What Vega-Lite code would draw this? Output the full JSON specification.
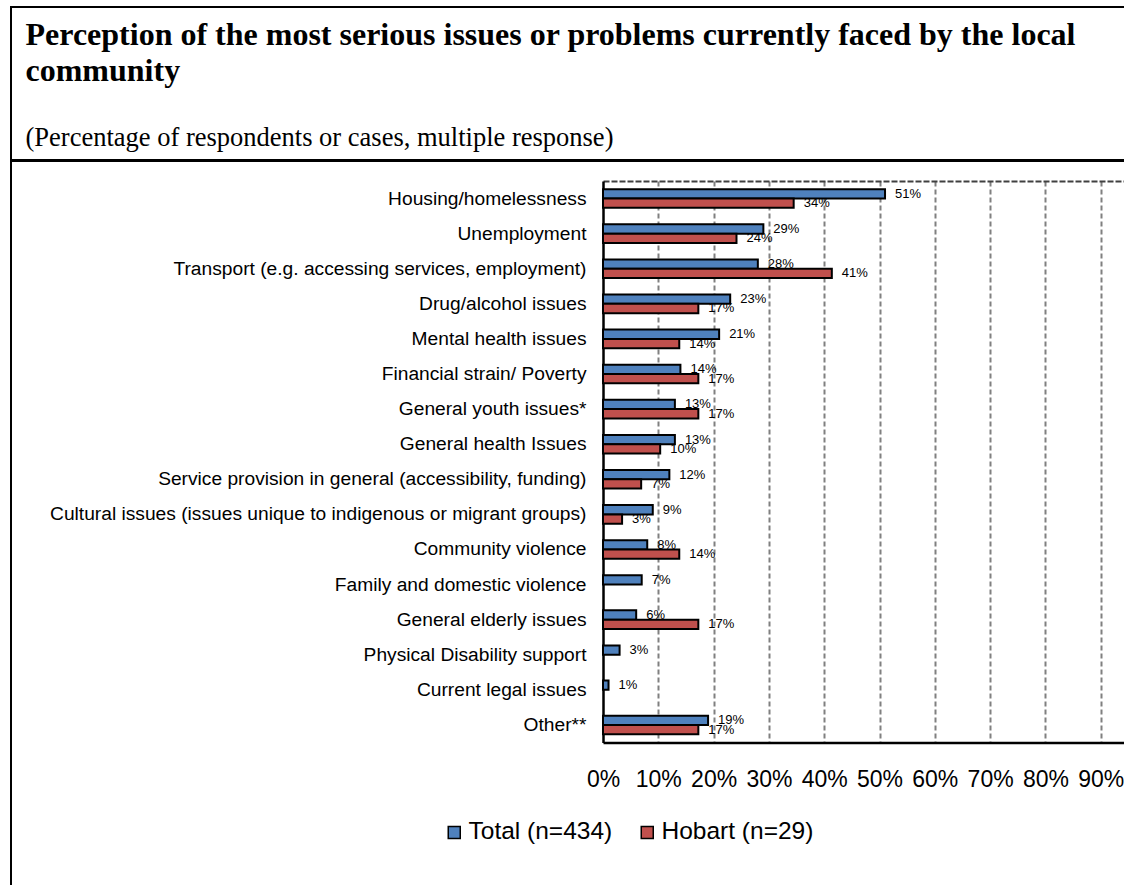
{
  "$schema": "https://vega.github.io/schema/vega-lite/v6.json",
  "padding": {"left": 10, "top": 6, "right": 0, "bottom": 0},
  "background": "white",
  "spacing": -2,
  "config": {
    "font": "Liberation Sans",
    "view": {"stroke": "black", "strokeWidth": 2}
  },
  "vconcat": [
    {
      "width": 1160,
      "height": 153,
      "view": {"stroke": "black", "strokeWidth": 2, "fill": "white"},
      "data": {"values": [{"t": ""}]},
      "mark": {"type": "text"},
      "encoding": {"text": {"field": "t"}},
      "title": {
        "text": ["Perception of the most serious issues or problems currently faced by the local", "community"],
        "subtitle": "(Percentage of respondents or cases, multiple response)",
        "orient": "top",
        "anchor": "start",
        "frame": "group",
        "font": "Liberation Serif",
        "fontSize": 32,
        "fontWeight": "bold",
        "color": "black",
        "lineHeight": 36.7,
        "subtitleFont": "Liberation Serif",
        "subtitleFontSize": 26.5,
        "subtitleColor": "black",
        "subtitlePadding": 36,
        "offset": -145,
        "dx": 14.5
      }
    },
    {
      "width": 1160,
      "height": 740,
      "view": {"stroke": "black", "strokeWidth": 2},
      "data": {
        "values": [
          {"issue": "Housing/homelessness", "series": "Total (n=434)", "value": 0.51},
          {"issue": "Unemployment", "series": "Total (n=434)", "value": 0.29},
          {"issue": "Transport (e.g. accessing services, employment)", "series": "Total (n=434)", "value": 0.28},
          {"issue": "Drug/alcohol issues", "series": "Total (n=434)", "value": 0.23},
          {"issue": "Mental health issues", "series": "Total (n=434)", "value": 0.21},
          {"issue": "Financial strain/ Poverty", "series": "Total (n=434)", "value": 0.14},
          {"issue": "General youth issues*", "series": "Total (n=434)", "value": 0.13},
          {"issue": "General health Issues", "series": "Total (n=434)", "value": 0.13},
          {"issue": "Service provision in general (accessibility, funding)", "series": "Total (n=434)", "value": 0.12},
          {"issue": "Cultural issues (issues unique to indigenous or migrant groups)", "series": "Total (n=434)", "value": 0.09},
          {"issue": "Community violence", "series": "Total (n=434)", "value": 0.08},
          {"issue": "Family and domestic violence", "series": "Total (n=434)", "value": 0.07},
          {"issue": "General elderly issues", "series": "Total (n=434)", "value": 0.06},
          {"issue": "Physical Disability support", "series": "Total (n=434)", "value": 0.03},
          {"issue": "Current legal issues", "series": "Total (n=434)", "value": 0.01},
          {"issue": "Other**", "series": "Total (n=434)", "value": 0.19},
          {"issue": "Housing/homelessness", "series": "Hobart (n=29)", "value": 0.3448},
          {"issue": "Unemployment", "series": "Hobart (n=29)", "value": 0.2414},
          {"issue": "Transport (e.g. accessing services, employment)", "series": "Hobart (n=29)", "value": 0.4138},
          {"issue": "Drug/alcohol issues", "series": "Hobart (n=29)", "value": 0.1724},
          {"issue": "Mental health issues", "series": "Hobart (n=29)", "value": 0.1379},
          {"issue": "Financial strain/ Poverty", "series": "Hobart (n=29)", "value": 0.1724},
          {"issue": "General youth issues*", "series": "Hobart (n=29)", "value": 0.1724},
          {"issue": "General health Issues", "series": "Hobart (n=29)", "value": 0.1034},
          {"issue": "Service provision in general (accessibility, funding)", "series": "Hobart (n=29)", "value": 0.069},
          {"issue": "Cultural issues (issues unique to indigenous or migrant groups)", "series": "Hobart (n=29)", "value": 0.0345},
          {"issue": "Community violence", "series": "Hobart (n=29)", "value": 0.1379},
          {"issue": "General elderly issues", "series": "Hobart (n=29)", "value": 0.1724},
          {"issue": "Other**", "series": "Hobart (n=29)", "value": 0.1724}
        ]
      },
      "encoding": {
        "y": {
          "field": "issue",
          "type": "nominal",
          "sort": null,
          "scale": {"range": [20, 581.5], "paddingInner": 0.47, "paddingOuter": 0.235},
          "axis": {
            "title": null,
            "orient": "left",
            "offset": -592,
            "domainColor": "black",
            "domainWidth": 2.5,
            "ticks": false,
            "labelPadding": 17,
            "labelFont": "Liberation Sans",
            "labelFontSize": 19.2,
            "labelColor": "black",
            "labelLimit": 700,
            "grid": false
          }
        },
        "yOffset": {
          "field": "series",
          "type": "nominal",
          "sort": ["Total (n=434)", "Hobart (n=29)"],
          "scale": {"paddingInner": 0, "paddingOuter": 0}
        },
        "color": {
          "field": "series",
          "type": "nominal",
          "sort": ["Total (n=434)", "Hobart (n=29)"],
          "scale": {"domain": ["Total (n=434)", "Hobart (n=29)"], "range": ["#4F81BD", "#C0504D"]},
          "legend": {
            "orient": "none",
            "legendX": 431,
            "legendY": 813,
            "direction": "horizontal",
            "title": null,
            "symbolType": "square",
            "symbolSize": 144,
            "symbolStrokeColor": "black",
            "symbolStrokeWidth": 1.5,
            "symbolOpacity": 1,
            "labelFont": "Liberation Sans",
            "labelFontSize": 24.5,
            "labelColor": "black",
            "labelOffset": 2,
            "labelLimit": 300,
            "columnPadding": 22,
            "padding": 0
          }
        }
      },
      "layer": [
        {
          "mark": {"type": "bar", "stroke": "black", "strokeWidth": 2},
          "encoding": {
            "x": {
              "field": "value",
              "type": "quantitative",
              "scale": {"domain": [0, 1], "range": [592, 1145], "nice": false},
              "axis": {
                "orient": "bottom",
                "offset": -158.5,
                "format": "%",
                "values": [0, 0.1, 0.2, 0.3, 0.4, 0.5, 0.6, 0.7, 0.8, 0.9, 1],
                "domainColor": "black",
                "domainWidth": 2.5,
                "ticks": false,
                "labelPadding": 26,
                "labelFont": "Liberation Sans",
                "labelFontSize": 23,
                "labelColor": "black",
                "labelFlush": false,
                "labelOverlap": false,
                "grid": false,
                "title": null
              }
            }
          }
        },
        {
          "mark": {"type": "text", "align": "left", "baseline": "middle", "dx": 10, "fontSize": 13, "font": "Liberation Sans", "color": "black"},
          "encoding": {
            "x": {
              "field": "value",
              "type": "quantitative",
              "axis": {
                "orient": "top",
                "offset": -20,
                "values": [0.1, 0.2, 0.3, 0.4, 0.5, 0.6, 0.7, 0.8, 0.9, 1],
                "domain": true,
                "domainColor": "#404040",
                "domainDash": [6, 2],
                "domainWidth": 2,
                "labels": false,
                "ticks": false,
                "grid": true,
                "gridColor": "#808080",
                "gridDash": [5, 3],
                "gridWidth": 2,
                "title": null
              }
            },
            "text": {"field": "value", "type": "quantitative", "format": ".0%"},
            "color": {"value": "black"}
          }
        }
      ],
      "resolve": {"axis": {"x": "independent"}}
    }
  ]
}
